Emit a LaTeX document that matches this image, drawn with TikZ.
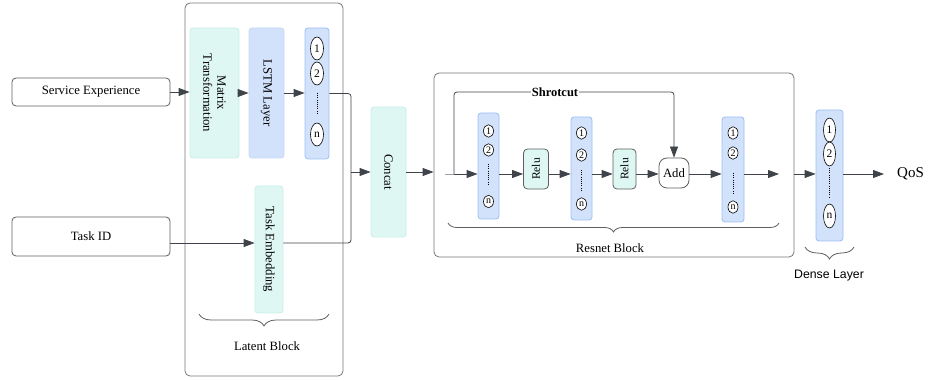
\documentclass[tikz,border=0pt]{standalone}
\usepackage{fontspec}
\setmainfont{Liberation Serif}
\newfontfamily\densefont{Liberation Sans}
\usetikzlibrary{arrows.meta}
\usetikzlibrary{shapes.geometric}
\usetikzlibrary{decorations.pathreplacing}
\usetikzlibrary{calc}

\definecolor{cyanfill}{HTML}{DEF7F3}
\definecolor{cyanline}{HTML}{C6EEE8}
\definecolor{bluefill}{HTML}{D3E2FB}
\definecolor{blueline}{HTML}{9CBEF4}
\definecolor{lstmline}{HTML}{C4D7F7}
\definecolor{linegray}{HTML}{3F434A}
\definecolor{boxgray}{HTML}{5E5E5E}

\tikzset{
  txt/.style={font=\fontsize{12.7}{14}\selectfont},
  inbox/.style={txt, draw=boxgray, line width=0.8pt, rounded corners=4pt, minimum width=158pt, inner sep=0pt},
  blockbox/.style={draw=boxgray!85, line width=0.8pt, rounded corners=5pt, inner sep=0pt},
  cyanbox/.style={txt, draw=cyanline, fill=cyanfill, line width=0.8pt, rounded corners=3pt, inner sep=0pt, align=center},
  lstmbox/.style={txt, draw=lstmline, fill=bluefill, line width=0.8pt, rounded corners=3pt, inner sep=0pt},
  relubox/.style={font=\fontsize{11.5}{13}\selectfont, draw=boxgray, fill=cyanfill, line width=0.8pt, rounded corners=4pt, inner sep=0pt, rotate=90, minimum width=40pt, minimum height=25pt},
  colbox/.style={draw=blueline, fill=bluefill, line width=0.8pt, rounded corners=3pt, inner sep=0pt},
  neuron/.style={ellipse, draw=black, fill=white, line width=0.6pt, inner sep=0pt, minimum width=13pt, minimum height=23pt, font=\fontsize{11.5}{12}\selectfont},
  smallneuron/.style={neuron, minimum width=10pt, minimum height=12.5pt, font=\fontsize{10}{10}\selectfont},
  bigneuron/.style={neuron, minimum width=12pt, minimum height=24pt},
  dots/.style={draw=black, line width=0.9pt, dash pattern=on 0.7pt off 1.5pt},
  arr/.style={draw=linegray, line width=0.8pt, -{Triangle[length=11pt,width=8pt]}},
  ln/.style={draw=linegray, line width=0.8pt},
  brc/.style={draw=boxgray, line width=0.8pt, decorate, decoration={brace, mirror, amplitude=#1}},
}

\begin{document}
\begin{tikzpicture}[x=1pt, y=1pt]
  \useasboundingbox (0,0) rectangle (928,380);

  % containers
  \node[blockbox, minimum width=158pt, minimum height=373pt] (lb) at (264,190.5) {};
  \node[blockbox, minimum width=360pt, minimum height=184pt] (rb) at (614,215) {};

  % inputs
  \node[inbox, minimum height=28pt] (se) at (91,288) {Service Experience};
  \node[inbox, minimum height=39pt] (tid) at (91,143.5) {Task ID};

  % latent block (rotate=-90: south is left, north is right)
  \node[cyanbox, rotate=-90, minimum width=130pt, minimum height=49pt] (mt) at (214.5,287) {Matrix\\Transformation};
  \node[lstmbox, rotate=-90, minimum width=130pt, minimum height=35pt] (lstm) at (266.5,287) {LSTM Layer};
  \node[colbox, minimum width=24pt, minimum height=131pt] (c1) at (317,286.5) {};
  \node[neuron] (c1a) at (317,331.5) {1};
  \node[neuron] (c1b) at (317,306.5) {2};
  \node[neuron] (c1n) at (317,245.5) {n};
  \draw[dots] (317,287) -- (317,267);
  \node[cyanbox, rotate=-90, minimum width=127pt, minimum height=28pt] (temb) at (269,130.5) {Task Embedding};

  \draw[brc=12pt] (199,66) -- (329,66);
  \node[txt] (lbl) at (267,34) {Latent Block};

  % concat
  \node[cyanbox, rotate=-90, minimum width=130pt, minimum height=35pt] (cat) at (388.5,208) {Concat};
  \coordinate (jn) at (351,208);
  \coordinate (tlevel) at (0,137);

  \draw[arr] (se.east) -- (mt.south |- se.east);
  \draw[arr] (mt.north) -- (lstm.south);
  \draw[arr] (lstm.north) -- (c1.west |- lstm.north);
  \draw[arr] (tid.east |- tlevel) -- (temb.south |- tlevel);
  \draw[ln, rounded corners=3pt] (c1.east) -| (jn);
  \draw[ln, rounded corners=3pt] (temb.north |- tlevel) -| (jn);
  \draw[arr] (jn) -- (cat.south);
  \draw[arr] (cat.north) -- (cat.north -| rb.west);

  % resnet block
  \coordinate (flow) at (0,206);
  \coordinate (rin) at (445,206);
  \coordinate (sc) at (454,206);
  \coordinate (sctop) at (674,288);
  \coordinate (rout) at (779,206);

  \node[colbox, minimum width=21pt, minimum height=106pt] (ca) at (488.5,214) {};
  \node[smallneuron] (caa) at (488.5,249) {1};
  \node[smallneuron] (cab) at (488.5,230) {2};
  \node[smallneuron] (can) at (488.5,178.5) {n};
  \draw[dots] (488.5,216) -- (488.5,196);

  \node[relubox] (r1) at (536,211) {Relu};

  \node[colbox, minimum width=21pt, minimum height=103pt] (cb) at (581.5,211.5) {};
  \node[smallneuron] (cba) at (581.5,247) {1};
  \node[smallneuron] (cbb) at (581.5,225) {2};
  \node[smallneuron] (cbn) at (581.5,176) {n};
  \draw[dots] (581.5,210) -- (581.5,190);

  \node[relubox, minimum height=23pt] (r2) at (624.5,211) {Relu};
  \node[txt, draw=boxgray, fill=white, line width=0.8pt, rounded corners=8pt, inner sep=0pt, minimum width=30pt, minimum height=30pt] (ad) at (674,207) {Add};

  \node[colbox, minimum width=22pt, minimum height=105pt] (cc) at (733,210.5) {};
  \node[smallneuron] (cca) at (733,247) {1};
  \node[smallneuron] (ccb) at (733,227) {2};
  \node[smallneuron] (ccn) at (733,173) {n};
  \draw[dots] (733,207) -- (733,187);

  \draw[draw=linegray!50, line width=0.8pt] (rin) -- (sc);
  \draw[arr] (sc) -- (ca.west |- flow);
  \draw[arr, rounded corners=3pt] (sc) |- (sctop) -- (ad.north);
  \node[font=\bfseries\fontsize{12.5}{14}\selectfont, fill=white, inner sep=1pt] (sclab) at (555,288) {Shrotcut};
  \draw[arr] (ca.east |- flow) -- (r1.north |- flow);
  \draw[arr] (r1.south |- flow) -- (cb.west |- flow);
  \draw[arr] (cb.east |- flow) -- (r2.north |- flow);
  \draw[arr] (r2.south |- flow) -- (ad.west |- flow);
  \draw[arr] (ad.east |- flow) -- (cc.west |- flow);
  \draw[arr] (cc.east |- flow) -- (rout);

  \draw[brc=9pt] (448,157) -- (779,157);
  \node[txt] (rlbl) at (610,132) {Resnet Block};

  % dense layer
  \node[colbox, minimum width=27pt, minimum height=131pt] (dn) at (829.5,204.5) {};
  \node[bigneuron] (dna) at (829.5,250) {1};
  \node[bigneuron] (dnb) at (829.5,226) {2};
  \node[bigneuron] (dnn) at (829.5,164) {n};
  \draw[dots] (829.5,212) -- (829.5,182);

  \node[font=\fontsize{15}{17}\selectfont, anchor=west, inner sep=1pt] (qos) at (896,206) {QoS};
  \draw[arr] (rb.east |- flow) -- (dn.west |- flow);
  \draw[arr, shorten >=12pt] (dn.east |- flow) -- (qos.west);

  \draw[brc=12pt] (805,133) -- (854,133);
  \node[font=\densefont\fontsize{12.3}{14}\selectfont] (dlbl) at (829,104) {Dense Layer};
\end{tikzpicture}
\end{document}
